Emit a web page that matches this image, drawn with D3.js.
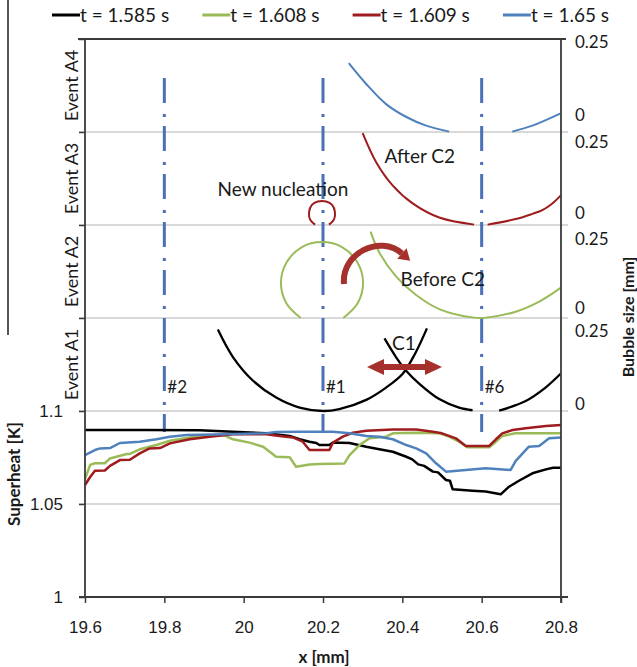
<!DOCTYPE html>
<html>
<head>
<meta charset="utf-8">
<script src="https://cdn.jsdelivr.net/npm/d3@7"></script>
<style>
  html, body { margin: 0; padding: 0; background: #fff; }
  svg { display: block; font-family: Lato, "Open Sans", "Liberation Sans", sans-serif; }
</style>
</head>
<body>
<svg id="chart" width="637" height="667"></svg>
<script>
// ---- series ----
const seriesLabels = ["t = 1.585 s", "t = 1.608 s", "t = 1.609 s", "t = 1.65 s"];
const seriesColors = ["#000000", "#9bbb59", "#9e1b1e", "#4f81bd"];

// ---- wall superheat [K] along x [mm] ----
const superheat1585 = [[19.6,1.0898],[19.75,1.0898],[19.889,1.0897],[19.973,1.0889],[20.057,1.088],[20.116,1.0866],[20.141,1.0848],[20.166,1.0835],[20.183,1.0828],[20.191,1.0817],[20.216,1.0817],[20.225,1.083],[20.267,1.0828],[20.309,1.0808],[20.342,1.0794],[20.376,1.0781],[20.41,1.0754],[20.425,1.074],[20.44,1.0713],[20.455,1.0705],[20.477,1.0674],[20.49,1.067],[20.51,1.0629],[20.52,1.0625],[20.527,1.0579],[20.577,1.0571],[20.61,1.0567],[20.648,1.0552],[20.669,1.0593],[20.694,1.0625],[20.728,1.0665],[20.762,1.0686],[20.78,1.0695],[20.8,1.0695]];
const superheat1608 = [[19.6,1.0634],[19.613,1.071],[19.625,1.0719],[19.65,1.0719],[19.663,1.0745],[19.705,1.0769],[19.713,1.0769],[19.738,1.0794],[19.78,1.0817],[19.814,1.084],[19.864,1.0858],[19.923,1.087],[19.95,1.087],[19.973,1.0848],[20.015,1.083],[20.049,1.0808],[20.082,1.0754],[20.116,1.0752],[20.132,1.07],[20.166,1.0712],[20.191,1.0715],[20.254,1.0718],[20.267,1.0763],[20.292,1.0817],[20.317,1.0853],[20.359,1.0862],[20.376,1.088],[20.435,1.0883],[20.493,1.088],[20.518,1.0862],[20.543,1.0835],[20.564,1.0805],[20.619,1.0805],[20.636,1.0835],[20.652,1.0866],[20.686,1.088],[20.8,1.088]];
const superheat1609 = [[19.6,1.0602],[19.613,1.0645],[19.625,1.0679],[19.65,1.068],[19.663,1.0705],[19.688,1.0736],[19.713,1.0738],[19.738,1.0772],[19.763,1.0799],[19.789,1.0801],[19.814,1.0826],[19.864,1.0848],[19.914,1.0862],[19.973,1.0875],[20.057,1.0875],[20.09,1.0866],[20.124,1.0858],[20.149,1.0835],[20.166,1.079],[20.216,1.079],[20.225,1.083],[20.25,1.0862],[20.275,1.0883],[20.309,1.0894],[20.376,1.0901],[20.435,1.0901],[20.477,1.0889],[20.5,1.088],[20.535,1.0853],[20.56,1.0812],[20.619,1.0812],[20.636,1.0848],[20.652,1.088],[20.678,1.0898],[20.711,1.0907],[20.762,1.0919],[20.8,1.0925]];
const superheat1650 = [[19.6,1.0763],[19.625,1.079],[19.638,1.0799],[19.663,1.0801],[19.688,1.0828],[19.738,1.0835],[19.78,1.0848],[19.814,1.0862],[19.856,1.0871],[19.923,1.0874],[20.057,1.088],[20.082,1.0887],[20.141,1.0889],[20.225,1.0888],[20.267,1.088],[20.309,1.0866],[20.342,1.0862],[20.376,1.0848],[20.41,1.0817],[20.435,1.0799],[20.46,1.0772],[20.485,1.0719],[20.51,1.0674],[20.56,1.0683],[20.61,1.0692],[20.673,1.0683],[20.686,1.0732],[20.719,1.0808],[20.745,1.0812],[20.77,1.0853],[20.8,1.0858]];
const superheatSeries = [superheat1585, superheat1608, superheat1609, superheat1650];

// ---- bubble profiles: [x mm, bubble size mm] ----
// Event A1 (t = 1.585 s)
const bubbleA1Left = [[19.935,0.219],[19.973,0.145],[20.023,0.082],[20.082,0.036],[20.141,0.009],[20.2,0.0],[20.241,0.005],[20.309,0.03],[20.359,0.063],[20.401,0.1],[20.434,0.158],[20.462,0.222]];
const bubbleA1RightA = [[20.355,0.195],[20.384,0.145],[20.409,0.109],[20.443,0.073],[20.493,0.032],[20.543,0.009],[20.577,0.002]];
const bubbleA1RightB = [[20.644,0.001],[20.711,0.027],[20.761,0.063],[20.799,0.1]];
// Event A2 (t = 1.608 s)
const bubbleA2Circle = [[20.144,0.0],[20.108,0.039],[20.094,0.094],[20.108,0.149],[20.146,0.19],[20.197,0.204],[20.249,0.19],[20.287,0.149],[20.301,0.094],[20.287,0.039],[20.251,0.0]];
const bubbleA2Arc = [[20.32,0.232],[20.342,0.176],[20.384,0.112],[20.434,0.0625],[20.493,0.024],[20.581,0.001],[20.611,0.001],[20.686,0.017],[20.745,0.044],[20.799,0.081]];
// Event A3 (t = 1.609 s)
const bubbleA3Nucleus = [[20.18,0.001],[20.167,0.016],[20.165,0.035],[20.172,0.054],[20.187,0.063],[20.208,0.063],[20.223,0.054],[20.23,0.035],[20.228,0.016],[20.215,0.001]];
const bubbleA3ArcA = [[20.3,0.247],[20.334,0.169],[20.376,0.106],[20.426,0.058],[20.493,0.02],[20.581,0.001]];
const bubbleA3ArcB = [[20.615,0.001],[20.686,0.016],[20.728,0.03],[20.753,0.04],[20.775,0.055],[20.799,0.079]];
// Event A4 (t = 1.65 s)
const bubbleA4ArcA = [[20.265,0.185],[20.309,0.129],[20.359,0.075],[20.409,0.041],[20.46,0.017],[20.518,0.001]];
const bubbleA4ArcB = [[20.677,0.001],[20.728,0.017],[20.799,0.05]];

const bubbleProfiles = [
  { panel: 0, series: 0, points: bubbleA1Left },
  { panel: 0, series: 0, points: bubbleA1RightA },
  { panel: 0, series: 0, points: bubbleA1RightB },
  { panel: 1, series: 1, points: bubbleA2Circle },
  { panel: 1, series: 1, points: bubbleA2Arc },
  { panel: 2, series: 2, points: bubbleA3Nucleus },
  { panel: 2, series: 2, points: bubbleA3ArcA },
  { panel: 2, series: 2, points: bubbleA3ArcB },
  { panel: 3, series: 3, points: bubbleA4ArcA },
  { panel: 3, series: 3, points: bubbleA4ArcB }
];

// ---- axes ----
const xTicks = [19.6, 19.8, 20, 20.2, 20.4, 20.6, 20.8];
const yTicks = [1, 1.05, 1.1];
const yTickLabels = ["1", "1.05", "1.1"];
const panelLines = [1.15, 1.2, 1.25];
const eventLabels = ["Event A1", "Event A2", "Event A3", "Event A4"];
const bubbleAxisLabels = ["0.25", "0", "0.25", "0", "0.25", "0", "0.25", "0"];
const bubbleAxisAt = [1.2984, 1.2591, 1.2444, 1.2062, 1.1925, 1.1556, 1.143, 1.104];

// ---- thermocouple positions ----
const sensorX = [19.8, 20.2, 20.6];
const sensorLabels = ["#2", "#1", "#6"];

// ---- annotations (x mm, position on the stacked axis) ----
const noteTexts = ["New nucleation", "After C2", "Before C2", "C1"];
const noteX = [20.099, 20.444, 20.502, 20.404];
const noteAt = [1.2156, 1.2333, 1.1672, 1.1328];
const turnArrow = [[20.253,1.1683],[20.246,1.1850],[20.345,1.1950],[20.399,1.1847]];
const crossingArrow = { from: 20.311, to: 20.5, at: 1.1237 };

// ================= drawing =================
const svg = d3.select("#chart");
const x = d3.scaleLinear().domain([19.6, 20.8]).range([85, 561]);
const y = d3.scaleLinear().domain([1, 1.3]).range([597, 39]);
const bubblePerPanel = 0.05 / 0.25;     // each event band holds 0 .. 0.25 mm
const panelBase = k => 1.1 + 0.05 * k;
const bubbleY = (k, s) => y(panelBase(k) + s * bubblePerPanel);

const axisColor = "#3a3a3a";
const gridColor = "#b4b4b4";
const textColor = "#1a1a1a";
const arrowColor = "#a5302c";

// stray frame edge at the far left
svg.append("line").attr("x1", 8).attr("x2", 8).attr("y1", 0).attr("y2", 335)
  .attr("stroke", "#555").attr("stroke-width", 2);

// gridlines / band separators
svg.append("line").attr("x1", 79).attr("x2", 561).attr("y1", y(1.05)).attr("y2", y(1.05))
  .attr("stroke", gridColor).attr("stroke-width", 1.2);
[1.1, ...panelLines].forEach(v => {
  svg.append("line").attr("x1", 79).attr("x2", 568).attr("y1", y(v)).attr("y2", y(v))
    .attr("stroke", gridColor).attr("stroke-width", 1.2);
});

// dash-dot thermocouple lines
const sensorG = svg.append("g");
sensorX.forEach((sx, i) => {
  sensorG.append("line")
    .attr("x1", x(sx)).attr("x2", x(sx))
    .attr("y1", y(1.279)).attr("y2", y(1.0887))
    .attr("stroke", "#4a70b8").attr("stroke-width", 3)
    .attr("stroke-dasharray", "25,11,3,9");
  sensorG.append("text")
    .attr("x", x(sx) + 3).attr("y", y(1.1097))
    .attr("font-size", 17).attr("fill", textColor)
    .text(sensorLabels[i]);
});

// superheat curves
const shLine = d3.line().x(d => x(d[0])).y(d => y(d[1]));
superheatSeries.forEach((s, i) => {
  svg.append("path").attr("d", shLine(s))
    .attr("fill", "none").attr("stroke", seriesColors[i])
    .attr("stroke-width", 2.5).attr("stroke-linejoin", "round");
});

// bubble profiles
bubbleProfiles.forEach(b => {
  const ln = d3.line().x(d => x(d[0])).y(d => bubbleY(b.panel, d[1]))
    .curve(d3.curveCatmullRom.alpha(0.5));
  svg.append("path").attr("d", ln(b.points))
    .attr("fill", "none").attr("stroke", seriesColors[b.series])
    .attr("stroke-width", b.series === 0 ? 2.3 : 2);
});

// curved arrow between the two bubbles of event A2
{
  const p = turnArrow.map(d => [x(d[0]), y(d[1])]);
  const path = d3.path();
  path.moveTo(p[0][0], p[0][1]);
  path.bezierCurveTo(p[1][0], p[1][1], p[2][0], p[2][1], p[3][0], p[3][1]);
  svg.append("path").attr("d", path.toString())
    .attr("fill", "none").attr("stroke", arrowColor).attr("stroke-width", 6);
  const dx = p[3][0] - p[2][0], dy = p[3][1] - p[2][1];
  const L = Math.hypot(dx, dy), ux = dx / L, uy = dy / L;
  const tip = [p[3][0] + ux * 11, p[3][1] + uy * 11];
  const b1 = [p[3][0] - uy * 7, p[3][1] + ux * 7];
  const b2 = [p[3][0] + uy * 7, p[3][1] - ux * 7];
  svg.append("path").attr("d", `M${tip}L${b1}L${b2}Z`).attr("fill", arrowColor);
}

// double arrow for coalescence C1
{
  const x0 = x(crossingArrow.from), x1 = x(crossingArrow.to), yy = y(crossingArrow.at);
  const head = 17, half = 8;
  svg.append("line").attr("x1", x0 + head - 2).attr("x2", x1 - head + 2)
    .attr("y1", yy).attr("y2", yy).attr("stroke", arrowColor).attr("stroke-width", 6);
  svg.append("path").attr("d", `M${x0},${yy}L${x0 + head},${yy - half}L${x0 + head},${yy + half}Z`).attr("fill", arrowColor);
  svg.append("path").attr("d", `M${x1},${yy}L${x1 - head},${yy - half}L${x1 - head},${yy + half}Z`).attr("fill", arrowColor);
}

// annotation texts
noteTexts.forEach((t, i) => {
  svg.append("text").attr("x", x(noteX[i])).attr("y", y(noteAt[i]))
    .attr("text-anchor", "middle").attr("font-size", 19).attr("fill", textColor)
    .text(t);
});

// ---- axes ----
const xAxis = d3.axisBottom(x).tickValues(xTicks).tickSizeInner(6).tickSizeOuter(0)
  .tickPadding(18).tickFormat(d => String(d));
const gx = svg.append("g").attr("transform", `translate(0,${y(1)})`).call(xAxis);
gx.select(".domain").remove();
gx.selectAll("line").attr("stroke", axisColor).attr("stroke-width", 1.5);
gx.selectAll("text").attr("font-size", 17).attr("fill", textColor).attr("font-family", null);
svg.append("line").attr("x1", 79).attr("x2", 568).attr("y1", y(1)).attr("y2", y(1))
  .attr("stroke", axisColor).attr("stroke-width", 1.8);

const yAxis = d3.axisLeft(y).tickValues([...yTicks, ...panelLines, 1.3]).tickSizeInner(6)
  .tickSizeOuter(0).tickPadding(16)
  .tickFormat(d => { const i = yTicks.indexOf(d); return i >= 0 ? yTickLabels[i] : ""; });
const gy = svg.append("g").attr("transform", `translate(${x(19.6)},0)`).call(yAxis);
gy.select(".domain").remove();
gy.selectAll("line").attr("stroke", axisColor).attr("stroke-width", 1.5);
gy.selectAll("text").attr("font-size", 17).attr("fill", textColor).attr("font-family", null);

// frame: left, right, top
svg.append("line").attr("x1", x(19.6)).attr("x2", x(19.6)).attr("y1", y(1.3)).attr("y2", y(1))
  .attr("stroke", axisColor).attr("stroke-width", 1.8);
svg.append("line").attr("x1", x(20.8)).attr("x2", x(20.8)).attr("y1", y(1.3)).attr("y2", y(1) + 6)
  .attr("stroke", axisColor).attr("stroke-width", 1.8);
svg.append("line").attr("x1", 78).attr("x2", 566).attr("y1", y(1.3)).attr("y2", y(1.3))
  .attr("stroke", axisColor).attr("stroke-width", 1.8);

// bubble-size labels on the right
bubbleAxisLabels.forEach((t, i) => {
  svg.append("text").attr("x", 575).attr("y", y(bubbleAxisAt[i])).attr("dy", "0.35em")
    .attr("font-size", 17).attr("fill", textColor).text(t);
});

// event labels on the left
eventLabels.forEach((t, k) => {
  const cy = y(panelBase(k) + 0.025);
  svg.append("text").attr("transform", `translate(72,${cy}) rotate(-90)`)
    .attr("text-anchor", "middle").attr("dy", "0.35em")
    .attr("font-size", 18).attr("fill", textColor).text(t);
});

// axis titles
svg.append("text").attr("x", 324).attr("y", 663).attr("text-anchor", "middle")
  .attr("font-size", 17).attr("font-weight", "bold").attr("fill", textColor).text("x [mm]");
svg.append("text").attr("transform", "translate(14,474) rotate(-90)").attr("text-anchor", "middle")
  .attr("dy", "0.35em").attr("font-size", 17).attr("font-weight", "bold").attr("fill", textColor)
  .text("Superheat [K]");
svg.append("text").attr("transform", "translate(628,317) rotate(-90)").attr("text-anchor", "middle")
  .attr("dy", "0.35em").attr("font-size", 16).attr("font-weight", "bold").attr("fill", textColor)
  .text("Bubble size [mm]");

// legend
const legend = svg.append("g");
seriesLabels.forEach((t, i) => {
  const lx = 52 + i * 150.3;
  legend.append("line").attr("x1", lx).attr("x2", lx + 28).attr("y1", 15).attr("y2", 15)
    .attr("stroke", seriesColors[i]).attr("stroke-width", 3);
  legend.append("text").attr("x", lx + 28).attr("y", 15).attr("dy", "0.35em")
    .attr("font-size", 19).attr("fill", textColor).text(t);
});
</script>
</body>
</html>
